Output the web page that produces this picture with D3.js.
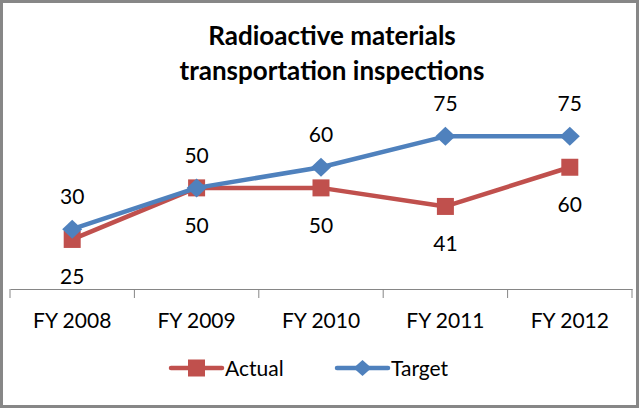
<!DOCTYPE html>
<html>
<head>
<meta charset="utf-8">
<script src="https://cdn.jsdelivr.net/npm/d3@7"></script>
<style>
body { margin: 0; background: #fff; }
text { font-family: Lato, "Open Sans", sans-serif; fill: #000; }
</style>
</head>
<body>
<div id="chart"></div>
<script>
const FRAME_WIDTH = 640;
const FRAME_HEIGHT = 409;

// chart data
const YEARS = ["FY 2008", "FY 2009", "FY 2010", "FY 2011", "FY 2012"];
const ACTUAL = [25, 50, 50, 41, 60];
const TARGET = [30, 50, 60, 75, 75];
const SERIES_NAMES = ["Actual", "Target"];
const TITLE_LINES = ["Radioactive materials", "transportation inspections"];

const RED = "#C0504D";
const BLUE = "#4F81BD";
const FONT = "Lato, 'Open Sans', sans-serif";

const FRAME = d3.select("#chart")
  .append("svg")
    .attr("width", FRAME_WIDTH)
    .attr("height", FRAME_HEIGHT);

// outer border
FRAME.append("rect")
  .attr("x", 1.5).attr("y", 1.5)
  .attr("width", FRAME_WIDTH - 4).attr("height", FRAME_HEIGHT - 4)
  .attr("fill", "#fff")
  .attr("stroke", "#878787")
  .attr("stroke-width", 3);

// title (sits a bit right of centre in the original)
FRAME.append("text")
  .attr("text-anchor", "middle")
  .attr("font-weight", "bold")
  .attr("font-size", "26px")
  .selectAll("tspan")
  .data(TITLE_LINES)
  .enter()
  .append("tspan")
    .attr("x", 332)
    .attr("y", (d, i) => 45 + i * 35)
    .text(d => d);

const X_SCALE = d3.scaleBand()
  .domain(YEARS)
  .range([10, 632]);

const Y_SCALE = d3.scaleLinear()
  .domain([0, 80])
  .range([291, 126]);

const AXIS_Y = 289;

// x axis
const xAxis = FRAME.append("g")
  .attr("transform", "translate(0," + AXIS_Y + ")")
  .call(d3.axisBottom(X_SCALE).tickSize(0).tickPadding(24));
xAxis.select(".domain").attr("stroke", "#868686");
xAxis.selectAll("text").attr("font-size", "21px").attr("font-family", FONT).attr("fill", "#000");

// tick marks between categories
const boundaries = YEARS.map(d => X_SCALE(d)).concat([X_SCALE.range()[1]]);
FRAME.selectAll(".tickmark")
  .data(boundaries)
  .enter()
  .append("line")
    .attr("class", "tickmark")
    .attr("x1", d => d).attr("x2", d => d)
    .attr("y1", AXIS_Y).attr("y2", AXIS_Y + 9)
    .attr("stroke", "#868686");

const cx = (i) => X_SCALE(YEARS[i]) + X_SCALE.bandwidth() / 2;

const line = d3.line()
  .x((d, i) => cx(i))
  .y(d => Y_SCALE(d));

// actual series
FRAME.append("path")
  .datum(ACTUAL)
  .attr("d", line)
  .attr("fill", "none")
  .attr("stroke", RED)
  .attr("stroke-width", 4.5)
  .attr("stroke-linejoin", "round");

FRAME.selectAll(".sq")
  .data(ACTUAL)
  .enter()
  .append("rect")
    .attr("class", "sq")
    .attr("x", (d, i) => cx(i) - 8.5)
    .attr("y", d => Y_SCALE(d) - 8.5)
    .attr("width", 17).attr("height", 17)
    .attr("fill", RED);

// target series
FRAME.append("path")
  .datum(TARGET)
  .attr("d", line)
  .attr("fill", "none")
  .attr("stroke", BLUE)
  .attr("stroke-width", 4.5)
  .attr("stroke-linejoin", "round");

const diamond = "M0,-9.5L10,0L0,9.5L-10,0Z";
FRAME.selectAll(".dm")
  .data(TARGET)
  .enter()
  .append("path")
    .attr("class", "dm")
    .attr("d", diamond)
    .attr("transform", (d, i) => "translate(" + cx(i) + "," + Y_SCALE(d) + ")")
    .attr("fill", BLUE);

// data labels
FRAME.selectAll(".lblA")
  .data(ACTUAL)
  .enter()
  .append("text")
    .attr("class", "lblA")
    .attr("x", (d, i) => cx(i))
    .attr("y", d => Y_SCALE(d) + 45)
    .attr("text-anchor", "middle")
    .attr("font-size", "21px")
    .attr("fill", "#1a1a1a")
    .text(d => d);

FRAME.selectAll(".lblT")
  .data(TARGET)
  .enter()
  .append("text")
    .attr("class", "lblT")
    .attr("x", (d, i) => cx(i))
    .attr("y", d => Y_SCALE(d) - 25)
    .attr("text-anchor", "middle")
    .attr("font-size", "21px")
    .attr("fill", "#1a1a1a")
    .text(d => d);

// legend
const LEGEND_Y = 368;
const legendX = [171, 337];
const legendColors = [RED, BLUE];
const legend = FRAME.selectAll(".legend")
  .data(SERIES_NAMES)
  .enter()
  .append("g")
    .attr("class", "legend")
    .attr("transform", (d, i) => "translate(" + legendX[i] + "," + LEGEND_Y + ")");

legend.append("line")
  .attr("x1", 0).attr("x2", 51)
  .attr("y1", 0).attr("y2", 0)
  .attr("stroke", (d, i) => legendColors[i])
  .attr("stroke-width", 4.5)
  .attr("stroke-linecap", "round");

legend.filter((d, i) => i === 0)
  .append("rect")
    .attr("x", 17).attr("y", -8.5)
    .attr("width", 17).attr("height", 17)
    .attr("fill", RED);

legend.filter((d, i) => i === 1)
  .append("path")
    .attr("d", "M0,-8L9,0L0,8L-9,0Z")
    .attr("transform", "translate(25.5,0)")
    .attr("fill", BLUE);

legend.append("text")
  .attr("x", 54)
  .attr("y", 7.5)
  .attr("font-size", "21px")
  .attr("fill", "#1a1a1a")
  .text(d => d);
</script>
</body>
</html>
